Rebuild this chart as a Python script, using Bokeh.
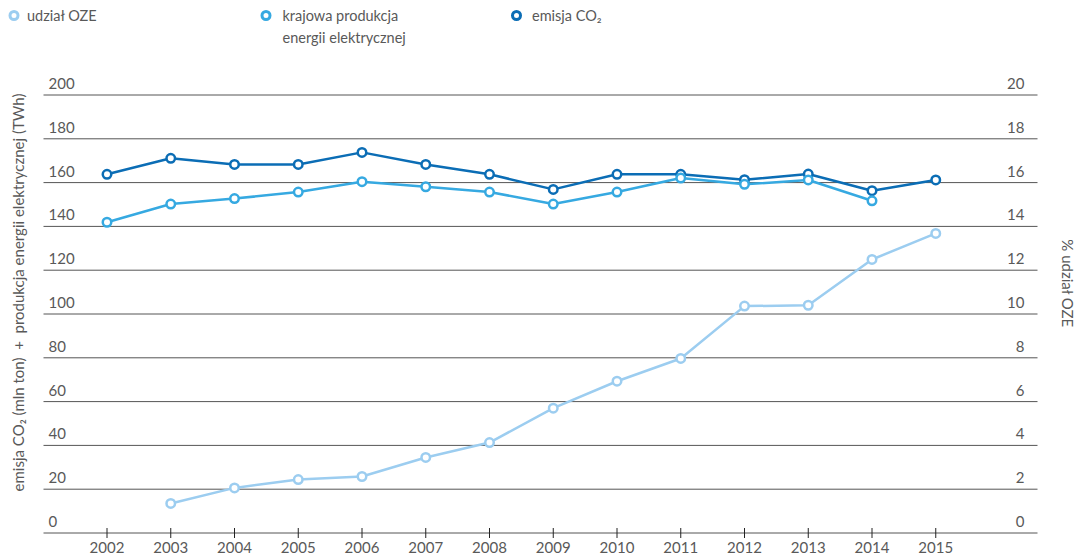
import math
from bokeh.plotting import figure
from bokeh.models import Range1d
from bokeh.core.properties import value
from bokeh.embed import file_html
from bokeh.resources import INLINE

# ---------------- data ----------------
years = [2002, 2003, 2004, 2005, 2006, 2007, 2008, 2009, 2010, 2011, 2012, 2013, 2014, 2015]
co2_emission = [163.8, 171.1, 168.3, 168.3, 173.8, 168.3, 163.8, 156.9, 163.8, 163.8, 161.3, 163.9, 156.3, 161.2]
production_years = [2002, 2003, 2004, 2005, 2006, 2007, 2008, 2009, 2010, 2011, 2012, 2013, 2014]
production = [141.9, 150.2, 152.7, 155.7, 160.4, 158.1, 155.7, 150.2, 155.7, 162.1, 159.2, 161.2, 151.7]
oze_years = [2003, 2004, 2005, 2006, 2007, 2008, 2009, 2010, 2011, 2012, 2013, 2014, 2015]
oze_share = [1.35, 2.06, 2.44, 2.58, 3.45, 4.13, 5.70, 6.93, 7.97, 10.36, 10.40, 12.49, 13.68]

left_ticks = [0, 20, 40, 60, 80, 100, 120, 140, 160, 180, 200]
right_ticks = [0, 2, 4, 6, 8, 10, 12, 14, 16, 18, 20]
year_labels = [str(y) for y in years]

legend_labels = ["udział OZE", "krajowa produkcja\nenergii elektrycznej", "emisja CO₂"]
left_title = "emisja CO₂ (mln ton)\u00a0 +\u00a0 produkcja energii elektrycznej (TWh)"
right_title = "% udział OZE"

# ---------------- style ----------------
DARK = "#0b6db5"
MID = "#36a9e1"
LIGHT = "#9ccdf0"
TEXT = "#595959"
GRID = "#555555"
FONT = "Lato"

PAGE = 0
W, H = 1085, 557
X0_PX, DX_PX = 106.5, 63.75   # page px of first year, px per year
Y0_PX, DY_PX = 532.5, 2.19    # page px of value 0, px per unit


def xd(px):
    return years[0] + (px - X0_PX) / DX_PX


def yd(py):
    return (Y0_PX - py) / DY_PX


p = figure(width=W, height=H, output_backend="svg", toolbar_location=None,
           x_range=Range1d(xd(PAGE), xd(PAGE + W)),
           y_range=Range1d(yd(PAGE + H), yd(PAGE)),
           x_axis_type=None, y_axis_type=None, min_border=0,
           outline_line_color=None, background_fill_color="white")
p.grid.visible = False
p.extra_y_ranges = {"pct": Range1d(yd(PAGE + H) / 10, yd(PAGE) / 10)}

# grid lines (including the zero baseline)
p.segment(x0=[xd(43)] * len(left_ticks), x1=[xd(1037)] * len(left_ticks),
          y0=left_ticks, y1=left_ticks, line_color=GRID, line_width=1)
# year ticks
p.segment(x0=years, x1=years, y0=[yd(527.5)] * len(years), y1=[yd(537.5)] * len(years),
          line_color="#222222", line_width=1)

# tick labels
lab_off = 11.5 / DY_PX
p.text(x=[xd(48)] * len(left_ticks), y=[t + lab_off for t in left_ticks],
       text=[str(t) for t in left_ticks], text_font=value(FONT), text_font_size="15px",
       text_color=TEXT, text_align="left", text_baseline="alphabetic")
p.text(x=[xd(1024)] * len(right_ticks), y=[t + lab_off / 10 for t in right_ticks],
       text=[str(t) for t in right_ticks], y_range_name="pct", text_font=value(FONT),
       text_font_size="15px", text_color=TEXT, text_align="right", text_baseline="alphabetic")
p.text(x=years, y=[yd(541)] * len(years), text=year_labels, text_font=value(FONT),
       text_font_size="15px", text_color=TEXT, text_align="center", text_baseline="top")

# axis titles
p.text(x=[xd(17)], y=[yd(292)], text=[left_title], angle=math.pi / 2,
       text_font=value(FONT), text_font_size="15px", text_color=TEXT,
       text_align="center", text_baseline="middle")
p.text(x=[xd(1067)], y=[yd(283)], text=[right_title], angle=-math.pi / 2,
       text_font=value(FONT), text_font_size="15px", text_color=TEXT,
       text_align="center", text_baseline="middle")

# series
MS, LW = 8.5, 2.5
p.line(years, co2_emission, line_color=DARK, line_width=LW)
p.scatter(years, co2_emission, size=MS, fill_color="white", line_color=DARK, line_width=LW)
p.line(production_years, production, line_color=MID, line_width=LW)
p.scatter(production_years, production, size=MS, fill_color="white", line_color=MID, line_width=LW)
p.line(oze_years, oze_share, line_color=LIGHT, line_width=LW, y_range_name="pct")
p.scatter(oze_years, oze_share, size=MS, fill_color="white", line_color=LIGHT, line_width=LW,
          y_range_name="pct")

# legend (manual, top row)
legend_colors = [LIGHT, MID, DARK]
legend_marker_px = [13.5, 265.5, 516]
legend_text_px = [26.5, 282, 531.5]
for lab, col, mx, tx in zip(legend_labels, legend_colors, legend_marker_px, legend_text_px):
    p.scatter([xd(mx)], [yd(15)], size=8, fill_color="white", line_color=col, line_width=3)
    for i, line in enumerate(lab.split("\n")):
        p.text(x=[xd(tx)], y=[yd(15 + 22 * i)], text=[line], text_font=value(FONT),
               text_font_size="14.5px", text_color=TEXT, text_align="left",
               text_baseline="alphabetic")

open("out.html", "w").write(file_html(p, INLINE))
